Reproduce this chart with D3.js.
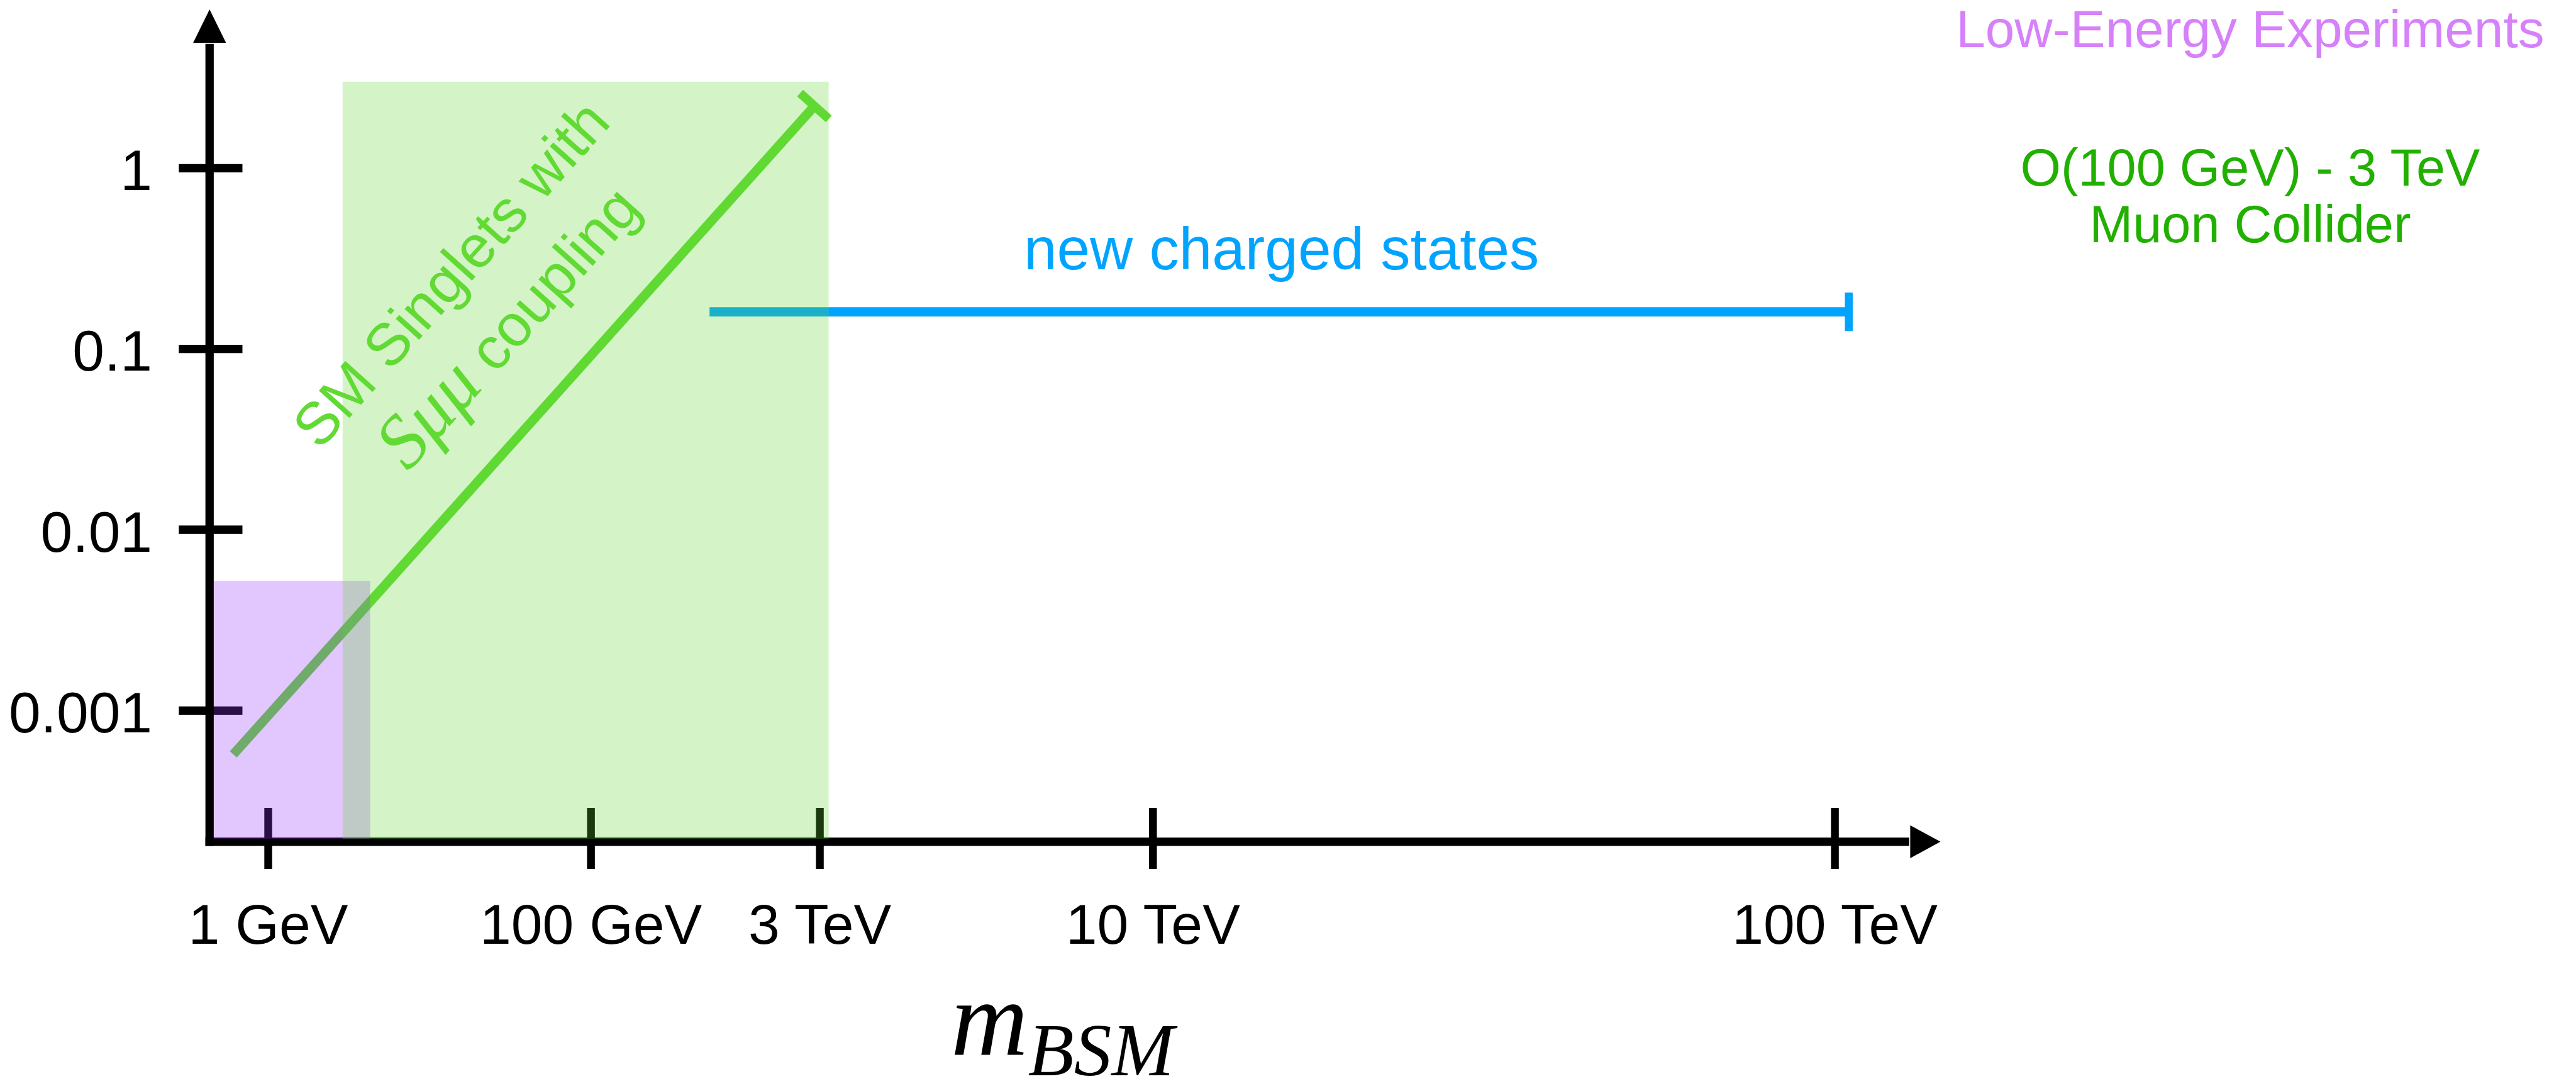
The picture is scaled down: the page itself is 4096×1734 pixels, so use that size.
<!DOCTYPE html>
<html>
<head>
<meta charset="utf-8">
<script src="https://cdn.jsdelivr.net/npm/d3@7"></script>
<style>
  html, body { margin: 0; padding: 0; background: #ffffff; overflow: hidden; }
  svg { display: block; }
</style>
</head>
<body>
<div id="chart"></div>
<script>
// ---------------- data ----------------
// x axis (schematic, piecewise log in GeV)
const xTickValues = [1, 100, 3000, 10000, 100000];
const xTickLabels = ["1 GeV", "100 GeV", "3 TeV", "10 TeV", "100 TeV"];
// y axis (log coupling)
const yTickValues = [1, 0.1, 0.01, 0.001];
const yTickLabels = ["1", "0.1", "0.01", "0.001"];
const yAxisMin = 1.875e-4;

// SM singlets with S mu mu coupling (mass GeV, coupling)
const singletMass = [0.61, 2780];
const singletCoupling = [5.7e-4, 2.2];

// new charged states
const chargedMass = [585, 104900];
const chargedCoupling = [0.16, 0.16];

// shaded regions
const lowEnergyMass = [0.46, 4.3];
const lowEnergyCoupling = [1.94e-4, 0.0052];
const colliderMass = [2.9, 3100];
const colliderCoupling = [1.94e-4, 3.0];

// labels
const lowEnergyLabel = "Low-Energy Experiments";
const colliderLabel = ["O(100 GeV) - 3 TeV", "Muon Collider"];
const chargedLabel = "new charged states";
const singletLabel1 = "SM Singlets with";
const singletLabel2Math = "S\u03BC\u03BC";
const singletLabel2Text = " coupling";

// ---------------- layout (reference pixel space) ----------------
const W = 4941, H = 2092;
const SANS = "'Liberation Sans', Arial, Helvetica, sans-serif";
const SERIF = "'Liberation Serif', 'Times New Roman', serif";

const colors = {
  axis: "#000000",
  singlet: "#62DA34",
  charged: "#00A4FF",
  lowEnergyFill: "rgb(150,50,250)",
  colliderFill: "rgb(96,215,52)",
  lowEnergyText: "#D680FA",
  colliderText: "#22B000"
};

const svg = d3.select("#chart").append("svg")
  .attr("width", 4096).attr("height", 1734)
  .attr("viewBox", `0 0 ${W} ${H}`)
  .attr("preserveAspectRatio", "none");

const x = d3.scaleLog()
  .domain(xTickValues)
  .range([514, 1133, 1572, 2211, 3519]);

const y = d3.scaleLog()
  .domain([0.001, 1])
  .range([1362, 322]);

const yAxisX = 402;                 // vertical axis position
const xAxisY = y(yAxisMin);         // horizontal axis position
const axisW = 16;

// ---------------- axes ----------------
const gAxes = svg.append("g");

// y axis ticks + labels
const yAxis = d3.axisLeft(y).tickValues(yTickValues)
  .tickFormat((d, i) => yTickLabels[i]).tickSizeOuter(0);
const gy = gAxes.append("g").attr("transform", `translate(${yAxisX},0)`).call(yAxis);
gy.select(".domain").remove();
gy.selectAll(".tick line")
  .attr("x1", -59).attr("x2", 63)
  .attr("stroke", colors.axis).attr("stroke-width", 16);
gy.selectAll(".tick text")
  .attr("x", -110).attr("dy", 0).attr("y", 42)
  .attr("text-anchor", "end")
  .style("font-family", SANS).style("font-size", "110px").attr("fill", "#000");

// x axis ticks + labels
const xAxis = d3.axisBottom(x).tickValues(xTickValues)
  .tickFormat((d, i) => xTickLabels[i]).tickSizeOuter(0);
const gx = gAxes.append("g").attr("transform", `translate(0,${xAxisY})`).call(xAxis);
gx.select(".domain").remove();
gx.selectAll(".tick line")
  .attr("y1", -65).attr("y2", 52)
  .attr("stroke", colors.axis).attr("stroke-width", 15);
gx.selectAll(".tick text")
  .attr("y", 196).attr("dy", 0)
  .attr("text-anchor", "middle")
  .style("font-family", SANS).style("font-size", "108px").attr("fill", "#000");

// axis lines with arrow heads
const yTopBase = 82, yTip = 18;
const xRightBase = 3664, xTip = 3722;
gAxes.append("line")
  .attr("x1", yAxisX).attr("x2", yAxisX)
  .attr("y1", xAxisY + axisW / 2).attr("y2", yTopBase + 2)
  .attr("stroke", colors.axis).attr("stroke-width", axisW);
gAxes.append("path")
  .attr("d", `M${yAxisX - 31.5},${yTopBase} L${yAxisX},${yTip} L${yAxisX + 31.5},${yTopBase} Z`)
  .attr("fill", colors.axis);
gAxes.append("line")
  .attr("x1", yAxisX - axisW / 2).attr("x2", xRightBase - 2)
  .attr("y1", xAxisY).attr("y2", xAxisY)
  .attr("stroke", colors.axis).attr("stroke-width", axisW);
gAxes.append("path")
  .attr("d", `M${xRightBase},${xAxisY - 31.5} L${xTip},${xAxisY} L${xRightBase},${xAxisY + 31.5} Z`)
  .attr("fill", colors.axis);

// ---------------- lines ----------------
const lineGen = d3.line().x(d => x(d[0])).y(d => y(d[1]));

// singlet diagonal line
const singletPts = singletMass.map((m, i) => [m, singletCoupling[i]]);
svg.append("path")
  .attr("d", lineGen(singletPts))
  .attr("fill", "none").attr("stroke", colors.singlet)
  .attr("stroke-width", 18).attr("stroke-linecap", "butt");
{
  const p0 = [x(singletPts[0][0]), y(singletPts[0][1])];
  const p1 = [x(singletPts[1][0]), y(singletPts[1][1])];
  const dx = p1[0] - p0[0], dy = p1[1] - p0[1];
  const L = Math.hypot(dx, dy);
  const nx = -dy / L, ny = dx / L;
  const half = 37;
  svg.append("line")
    .attr("x1", p1[0] - nx * half).attr("y1", p1[1] - ny * half)
    .attr("x2", p1[0] + nx * half).attr("y2", p1[1] + ny * half)
    .attr("stroke", colors.singlet).attr("stroke-width", 17);
}

// charged-states horizontal line
const chargedPts = chargedMass.map((m, i) => [m, chargedCoupling[i]]);
svg.append("path")
  .attr("d", lineGen(chargedPts))
  .attr("fill", "none").attr("stroke", colors.charged)
  .attr("stroke-width", 18).attr("stroke-linecap", "butt");
{
  const pe = [x(chargedPts[1][0]), y(chargedPts[1][1])];
  svg.append("line")
    .attr("x1", pe[0]).attr("x2", pe[0])
    .attr("y1", pe[1] - 37).attr("y2", pe[1] + 37)
    .attr("stroke", colors.charged).attr("stroke-width", 15);
}

// ---------------- shaded regions ----------------
svg.append("rect")
  .attr("x", Math.max(x(lowEnergyMass[0]), yAxisX + axisW / 2))
  .attr("width", x(lowEnergyMass[1]) - Math.max(x(lowEnergyMass[0]), yAxisX + axisW / 2))
  .attr("y", y(lowEnergyCoupling[1]))
  .attr("height", y(lowEnergyCoupling[0]) - y(lowEnergyCoupling[1]))
  .attr("fill", colors.lowEnergyFill).attr("fill-opacity", 0.28);

svg.append("rect")
  .attr("x", x(colliderMass[0]))
  .attr("width", x(colliderMass[1]) - x(colliderMass[0]))
  .attr("y", y(colliderCoupling[1]))
  .attr("height", y(colliderCoupling[0]) - y(colliderCoupling[1]))
  .attr("fill", colors.colliderFill).attr("fill-opacity", 0.27);

// ---------------- text annotations ----------------
const angle = -48.2;
svg.append("text")
  .attr("transform", `translate(894,551) rotate(${angle})`)
  .attr("text-anchor", "middle")
  .style("font-family", SANS).style("font-size", "114px")
  .attr("fill", colors.singlet)
  .text(singletLabel1);

const t2 = svg.append("text")
  .attr("transform", `translate(1008,654) rotate(${angle})`)
  .attr("text-anchor", "middle")
  .attr("fill", colors.singlet);
t2.append("tspan")
  .style("font-family", SERIF).style("font-style", "italic").style("font-size", "146px")
  .text(singletLabel2Math);
t2.append("tspan")
  .style("font-family", SANS).style("font-size", "114px")
  .text(singletLabel2Text);

svg.append("text")
  .attr("x", 2458).attr("y", 516)
  .attr("text-anchor", "middle")
  .style("font-family", SANS).style("font-size", "114px")
  .attr("fill", colors.charged)
  .text(chargedLabel);

svg.append("text")
  .attr("x", 4316).attr("y", 90)
  .attr("text-anchor", "middle")
  .style("font-family", SANS).style("font-size", "101px")
  .attr("fill", colors.lowEnergyText)
  .text(lowEnergyLabel);

svg.append("g").selectAll("text").data(colliderLabel).join("text")
  .attr("x", 4316).attr("y", (d, i) => 356 + i * 109)
  .attr("text-anchor", "middle")
  .style("font-family", SANS).style("font-size", "100px")
  .attr("fill", colors.colliderText)
  .text(d => d);

// x axis title m_BSM
const title = svg.append("text")
  .attr("x", 1824).attr("y", 2022)
  .style("font-family", SERIF).style("font-style", "italic")
  .attr("fill", "#000");
title.append("tspan").style("font-size", "205px").text("m");
title.append("tspan").style("font-size", "144px").attr("dy", 40).text("BSM");
</script>
</body>
</html>
